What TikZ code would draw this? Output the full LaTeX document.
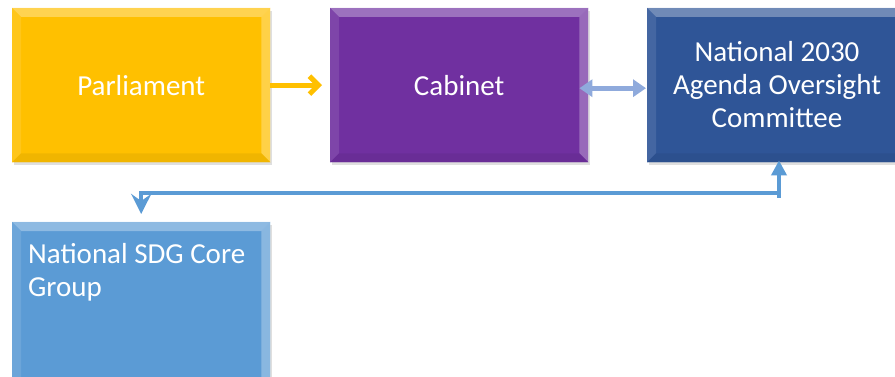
\documentclass[tikz,border=0pt]{standalone}
\usepackage{fontspec}
\setmainfont{Carlito}
\usetikzlibrary{arrows.meta,calc,shadows}
\definecolor{cyel}{HTML}{FFC000}
\definecolor{cpur}{HTML}{7030A0}
\definecolor{cdblue}{HTML}{2F5597}
\definecolor{clblue}{HTML}{5B9BD5}
\definecolor{cconn}{HTML}{5B9BD5}
\definecolor{cdbl}{HTML}{8FAADC}
\newcommand\bevelbox[2]{%
  \fill[#2!55!white,opacity=0.7] (#1.north west) -- (#1.north east) -- ($(#1.north east)+(-9,9)$) -- ($(#1.north west)+(9,9)$) -- cycle;
  \fill[#2!85!white,opacity=0.7] (#1.north west) -- ($(#1.north west)+(9,9)$) -- ($(#1.south west)+(9,-9)$) -- (#1.south west) -- cycle;
  \fill[#2!60!white,opacity=0.7] (#1.north east) -- ($(#1.north east)+(-9,9)$) -- ($(#1.south east)+(-9,-9)$) -- (#1.south east) -- cycle;
  \fill[#2!92!black,opacity=0.7] (#1.south west) -- ($(#1.south west)+(9,-9)$) -- ($(#1.south east)+(-9,-9)$) -- (#1.south east) -- cycle;
}
\begin{document}
\begin{tikzpicture}[x=1pt,y=-1pt,
  box/.style={rectangle, minimum width=258pt, minimum height=154pt, inner sep=0pt,
    anchor=north west, drop shadow={shadow xshift=2pt, shadow yshift=-3pt, opacity=0.25}},
  boxtext/.style={text=white, font=\fontsize{29}{33}\selectfont, inner sep=0pt},
  yarrow/.style={draw=cyel, line width=5pt, -{Straight Barb[length=9pt,width=18pt,line width=5pt]}},
  darrow/.style={draw=cdbl, line width=5pt, {Triangle[length=13pt,width=17pt]}-{Triangle[length=13pt,width=17pt]}},
  conn/.style={draw=cconn, line width=4pt}]
\useasboundingbox (0,0) rectangle (895,377);
\clip (0,0) rectangle (895,377);
\fill[white] (0,0) rectangle (895,377);

\node[box, fill=cyel] (parl) at (12,8) {};
\bevelbox{parl}{cyel}
\node[boxtext] (parlt) at (parl.center) {Parliament};

\node[box, fill=cpur] (cab) at (330,8) {};
\bevelbox{cab}{cpur}
\node[boxtext] (cabt) at (cab.center) {Cabinet};

\node[box, fill=cdblue, minimum width=262pt] (naoc) at (647,8) {};
\bevelbox{naoc}{cdblue}
\node[boxtext, align=center] (naoct) at (777,85) {National 2030\\Agenda Oversight\\Committee};

\node[box, fill=clblue, minimum height=170pt] (sdg) at (12,222) {};
\bevelbox{sdg}{clblue}
\node[boxtext, anchor=north west, align=left] (sdgt) at (28,243) {National SDG Core\\Group};

\draw[yarrow] (parl.east) -- ($(cab.west)+(-8,0)$);
\draw[darrow] ($(cab.east)+(-9,3)$) -- ($(naoc.west)+(-1,3)$);

\coordinate (j) at (779,193);
\coordinate (jb) at (779,198);
\draw[conn, -{Stealth[length=20pt,width=20pt,inset=7pt]}] (j) -| ($(sdg.north)+(0,-8)$);
\draw[conn, -{Triangle[length=15pt,width=15pt]}] (jb) -- ($(naoc.south -| jb)+(0,-2)$);
\end{tikzpicture}
\end{document}
